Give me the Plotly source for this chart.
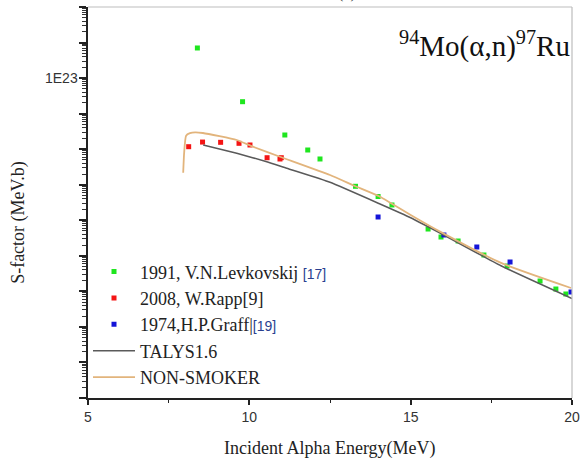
import plotly.graph_objects as go

# ---- data ----
lev_E = [8.39, 9.79, 11.10, 11.81, 12.19, 13.29, 13.99, 14.42, 15.54, 15.94, 16.47, 17.27, 17.99, 19.01, 19.50, 19.81]
lev_logS = [23.847, 22.336, 21.399, 20.977, 20.724, 19.956, 19.669, 19.430, 18.754, 18.529, 18.417, 18.023, 17.713, 17.291, 17.066, 16.926]

rapp_E = [8.12, 8.55, 9.11, 9.68, 10.02, 10.55, 10.95, 10.99]
rapp_logS = [21.070, 21.200, 21.193, 21.165, 21.118, 20.760, 20.724, 20.760]

graff_E = [13.99, 16.03, 17.05, 18.08, 19.97]
graff_logS = [19.092, 18.586, 18.248, 17.826, 16.982]

talys_E = [8.57, 9.61, 10.54, 11.16, 12.50, 14.05, 15.00, 15.91, 17.80, 20.0]
talys_logS = [21.118, 20.884, 20.648, 20.462, 20.068, 19.458, 19.072, 18.642, 17.720, 16.800]

ns_E = [7.95, 7.98, 8.04, 8.16, 8.32, 8.56, 9.61, 10.11, 10.95, 12.50, 13.27, 14.05, 15.00, 15.91, 17.80, 19.97]
ns_logS = [20.338, 20.900, 21.380, 21.450, 21.475, 21.455, 21.258, 21.070, 20.788, 20.274, 19.964, 19.663, 19.148, 18.680, 17.800, 17.095]

x_ticks = [5, 10, 15, 20]
x_minor = [7.5, 12.5, 17.5]
y_label_exp = 23
y_label_txt = "1E23"

to_val = lambda arr: [10 ** v for v in arr]

SERIF = "Liberation Serif, Times New Roman, serif"
ref = lambda s: f"<span style='font-family:Liberation Sans,Arial;font-size:14px;color:#2a3f8f'>{s}</span>"

fig = go.Figure()
fig.add_trace(go.Scatter(x=lev_E, y=to_val(lev_logS), mode="markers",
                         marker=dict(symbol="square", size=5, color="#1fe61f"),
                         name="1991, V.N.Levkovskij " + ref("[17]")))
fig.add_trace(go.Scatter(x=rapp_E, y=to_val(rapp_logS), mode="markers",
                         marker=dict(symbol="square", size=5, color="#f41414"),
                         name="2008, W.Rapp[9]"))
fig.add_trace(go.Scatter(x=graff_E, y=to_val(graff_logS), mode="markers",
                         marker=dict(symbol="square", size=5, color="#1414d8"),
                         name="1974,H.P.Graff|" + ref("[19]")))
fig.add_trace(go.Scatter(x=talys_E, y=to_val(talys_logS), mode="lines",
                         line=dict(color="#5a5a5a", width=1.5, shape="spline", smoothing=0.4),
                         name="TALYS1.6"))
fig.add_trace(go.Scatter(x=ns_E, y=to_val(ns_logS), mode="lines",
                         line=dict(color="#e2b47c", width=1.8, shape="spline", smoothing=0.5),
                         name="NON-SMOKER"))

decades = [10.0 ** k for k in range(14, 26)]
y_minor = [m * 10.0 ** k for k in range(14, 25) for m in range(2, 10)]

fig.update_layout(
    width=581, height=459,
    margin=dict(l=88, r=9, t=7, b=61, autoexpand=False),
    plot_bgcolor="white", paper_bgcolor="white",
    showlegend=True,
    legend=dict(x=0.0, y=0.37, xanchor="left", yanchor="top",
                bgcolor="rgba(0,0,0,0)", itemwidth=42,
                font=dict(family=SERIF, size=18, color="#222"),
                tracegroupgap=0),
    xaxis=dict(range=[5, 20], tickmode="array", tickvals=x_ticks, automargin=False,
               ticks="outside", ticklen=5, tickwidth=1.5, tickcolor="#222",
               showline=True, linecolor="#222", linewidth=1.5,
               showgrid=False, zeroline=False,
               tickfont=dict(family="Liberation Sans, Arial", size=14, color="#333"),
               minor=dict(tickmode="array", tickvals=x_minor, ticks="outside",
                          ticklen=3, tickwidth=1.2, tickcolor="#222")),
    yaxis=dict(type="log", range=[14, 25], tickmode="array", tickvals=decades,
               showticklabels=False, automargin=False,
               ticks="outside", ticklen=7, tickwidth=1.5, tickcolor="#222",
               showline=True, linecolor="#222", linewidth=1.5,
               showgrid=False, zeroline=False,
               minor=dict(tickmode="array", tickvals=y_minor, ticks="outside",
                          ticklen=4, tickwidth=1, tickcolor="#333")),
    shapes=[
        dict(type="line", xref="paper", yref="paper", x0=0, x1=1, y0=1, y1=1,
             line=dict(color="#bdbdbd", width=1.2)),
        dict(type="line", xref="paper", yref="paper", x0=1, x1=1, y0=0, y1=1,
             line=dict(color="#bdbdbd", width=1.2)),
    ],
    annotations=[
        dict(text=y_label_txt, xref="paper", yref="y", x=-0.017, y=y_label_exp,
             xanchor="right", yanchor="middle", showarrow=False,
             font=dict(family="Liberation Sans, Arial", size=14, color="#333")),
        dict(text="<sup>94</sup>Mo(α,n)<sup>97</sup>Ru", xref="paper", yref="paper",
             x=0.999, y=0.905, xanchor="right", yanchor="middle", showarrow=False,
             font=dict(family=SERIF, size=29, color="#111")),
        dict(text="Incident Alpha Energy(MeV)", xref="paper", yref="paper",
             x=0.5, y=-0.13, xanchor="center", yanchor="middle", showarrow=False,
             font=dict(family=SERIF, size=18, color="#222")),
        dict(text="S-factor (MeV.b)", xref="paper", yref="paper", textangle=-90,
             x=-0.145, y=0.45, xanchor="center", yanchor="middle", showarrow=False,
             font=dict(family=SERIF, size=18, color="#222")),
        dict(text="(a)", xref="paper", yref="paper",
             x=0.535, y=1.008, xanchor="center", yanchor="bottom", showarrow=False,
             font=dict(family=SERIF, size=16, color="#444")),
    ],
)

fig.write_html("out.html", config={"displayModeBar": False},
               post_script="document.body.style.margin='0px';document.body.style.overflow='hidden';")
